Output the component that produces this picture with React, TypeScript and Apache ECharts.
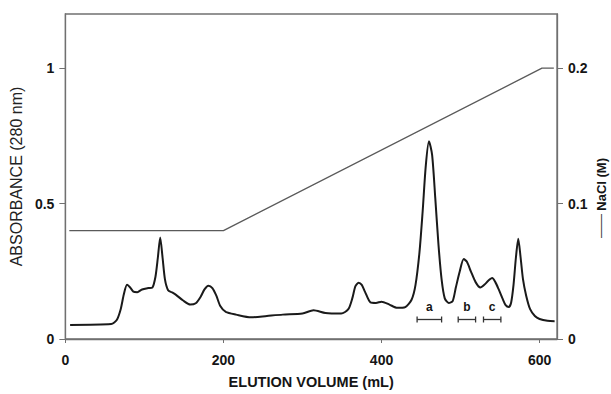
import React, { useEffect, useRef } from "react";
import * as echarts from "echarts";

const volume = [6, 58, 65, 70, 74, 78, 82, 86, 91, 97, 105, 110, 114, 117, 120, 123, 126, 130, 135, 140, 149, 158, 165, 171, 176, 181, 186, 191, 196, 203, 216, 235, 255, 275, 300, 314, 329, 349, 358, 363, 367, 371, 375, 379, 386, 393, 400, 410, 420, 430, 438, 443, 448, 452, 456, 460, 464, 468, 472, 476, 480, 485, 490, 494, 499, 504, 508, 513, 519, 525, 530, 535, 540, 544, 548, 553, 557, 561, 564, 567, 570, 573, 576, 579, 583, 588, 594, 600, 610, 619];
const absorbance = [0.052, 0.055, 0.07, 0.11, 0.165, 0.2, 0.19, 0.175, 0.173, 0.183, 0.188, 0.19, 0.23, 0.3, 0.375, 0.3, 0.22, 0.18, 0.172, 0.163, 0.142, 0.127, 0.132, 0.155, 0.183, 0.197, 0.188, 0.16, 0.122, 0.1, 0.09, 0.08, 0.085, 0.09, 0.094, 0.106, 0.096, 0.094, 0.11, 0.15, 0.195, 0.208, 0.2, 0.175, 0.135, 0.133, 0.138, 0.127, 0.115, 0.118, 0.145, 0.2, 0.32, 0.47, 0.64, 0.73, 0.68, 0.52, 0.35, 0.22, 0.15, 0.133, 0.14, 0.19, 0.25, 0.295, 0.285, 0.25, 0.21, 0.19, 0.2, 0.215, 0.225, 0.21, 0.185, 0.15, 0.125, 0.118, 0.135, 0.2, 0.3, 0.37, 0.3, 0.22, 0.16, 0.11, 0.085, 0.074, 0.067, 0.066];

const gradientVolume = [5, 200, 603, 618];
const gradientNaCl = [0.08, 0.08, 0.2, 0.2];

const bracketLabels = ["a", "b", "c"];
const bracketStart = [445, 497, 529];
const bracketEnd = [476, 519, 551];
const bracketLevel = 0.072;

const xTicks = [0, 200, 400, 600];
const leftTicks = [0, 0.5, 1];
const rightTicks = [0, 0.1, 0.2];

const FONT = "'Liberation Sans', Arial, Helvetica, sans-serif";

export default function App() {
  const ref = useRef<HTMLDivElement>(null);
  useEffect(() => {
    document.body.style.margin = "0";
    const chart = echarts.init(ref.current!, null, { renderer: "svg" });
    const axisLine = { lineStyle: { color: "#707070", width: 1.3 } };
    chart.setOption({
      animation: false,
      backgroundColor: "#ffffff",
      grid: { left: 62, right: 54, top: 14, bottom: 47, show: true, borderColor: "#707070", borderWidth: 1.3 },
      xAxis: {
        type: "value",
        min: 0,
        max: 622,
        axisLine: { onZero: false, ...axisLine },
        axisTick: { customValues: xTicks, length: 4, lineStyle: { color: "#707070" } },
        axisLabel: { customValues: xTicks, margin: 14, fontFamily: FONT, fontWeight: "bold", fontSize: 14, color: "#151515" },
        splitLine: { show: false },
        name: "ELUTION VOLUME (mL)",
        nameLocation: "middle",
        nameGap: 35,
        nameTextStyle: { fontFamily: FONT, fontWeight: "bold", fontSize: 14.5, color: "#151515" },
      },
      yAxis: [
        {
          type: "value",
          min: 0,
          max: 1.2,
          position: "left",
          axisLine: { show: true, ...axisLine },
          axisTick: { customValues: leftTicks, length: 6, lineStyle: { color: "#707070" } },
          axisLabel: { customValues: leftTicks, margin: 11, fontFamily: FONT, fontWeight: "bold", fontSize: 14, color: "#151515", formatter: (v: number) => String(v) },
          splitLine: { show: false },
          name: "ABSORBANCE (280 nm)",
          nameLocation: "middle",
          nameRotate: 90,
          nameGap: 33,
          nameTextStyle: { fontFamily: FONT, fontSize: 16, color: "#222" },
        },
        {
          type: "value",
          min: 0,
          max: 0.24,
          position: "right",
          axisLine: { show: true, ...axisLine },
          axisTick: { customValues: rightTicks, length: 6, lineStyle: { color: "#707070" } },
          axisLabel: { customValues: rightTicks, margin: 11, fontFamily: FONT, fontWeight: "bold", fontSize: 14, color: "#151515", formatter: (v: number) => String(v) },
          splitLine: { show: false },
        },
      ],
      graphic: [
        {
          type: "text",
          x: 601,
          y: 198,
          rotation: Math.PI / 2,
          style: {
            text: "{l|——} {t|NaCl (M)}",
            align: "center",
            verticalAlign: "middle",
            rich: {
              l: { fontFamily: FONT, fontSize: 12, fill: "#333" },
              t: { fontFamily: FONT, fontSize: 13, fontWeight: "bold", fill: "#151515" },
            },
          },
        },
      ],
      series: [
        {
          type: "line",
          yAxisIndex: 1,
          data: gradientVolume.map((v, i) => [v, gradientNaCl[i]]),
          symbol: "none",
          lineStyle: { color: "#5a5a5a", width: 1.3 },
        },
        {
          type: "line",
          yAxisIndex: 0,
          data: volume.map((v, i) => [v, absorbance[i]]),
          symbol: "none",
          smooth: 0.25,
          lineStyle: { color: "#1a1a1a", width: 2 },
        },
        {
          type: "custom",
          yAxisIndex: 0,
          data: bracketLabels.map((_, i) => [bracketStart[i], bracketEnd[i], bracketLevel]),
          renderItem: (params: any, api: any) => {
            const p1 = api.coord([api.value(0), api.value(2)]);
            const p2 = api.coord([api.value(1), api.value(2)]);
            const st = { stroke: "#333", lineWidth: 1.3 };
            return {
              type: "group",
              children: [
                { type: "line", shape: { x1: p1[0], y1: p1[1], x2: p2[0], y2: p2[1] }, style: st },
                { type: "line", shape: { x1: p1[0], y1: p1[1] - 3, x2: p1[0], y2: p1[1] + 3 }, style: st },
                { type: "line", shape: { x1: p2[0], y1: p2[1] - 3, x2: p2[0], y2: p2[1] + 3 }, style: st },
                {
                  type: "text",
                  x: (p1[0] + p2[0]) / 2,
                  y: p1[1] - 13,
                  style: { text: bracketLabels[params.dataIndex], align: "center", verticalAlign: "middle", fontFamily: FONT, fontWeight: "bold", fontSize: 12, fill: "#151515" },
                },
              ],
            };
          },
        },
      ],
    });
    return () => chart.dispose();
  }, []);
  return <div ref={ref} style={{ width: 611, height: 394, position: "absolute", left: 0, top: 0 }} />;
}
